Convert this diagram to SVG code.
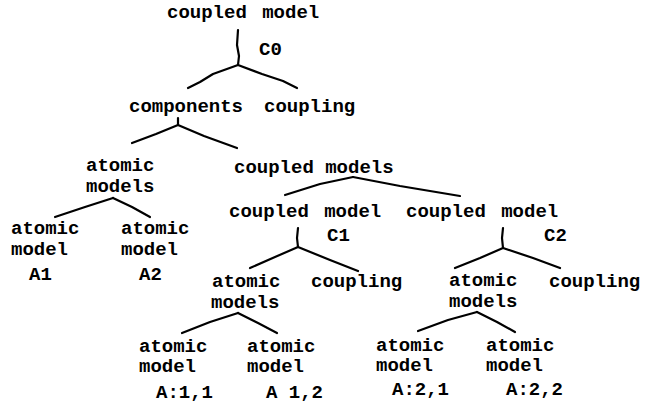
<svg xmlns="http://www.w3.org/2000/svg" width="655" height="403" viewBox="0 0 655 403">
<style>
text{font-family:"Liberation Mono","DejaVu Sans Mono",monospace;font-weight:bold;font-size:19px;fill:#000}
.w{word-spacing:4px}
.e{fill:none;stroke:#000;stroke-width:2.2;stroke-linejoin:round;stroke-linecap:round}
</style>
<rect width="655" height="403" fill="#fff"/>
<g id="edges">
<polyline class="e" points="238,30 237,45 239,56 238,65"/>
<polyline class="e" points="238,65 213,74 200,82 188,88"/>
<polyline class="e" points="238,65 262,74 283,81 297,88"/>
<polyline class="e" points="178,118 178,125"/>
<polyline class="e" points="178,125 156,134 132,143"/>
<polyline class="e" points="178,125 204,136 237,148"/>
<polyline class="e" points="113,198 85,207 55,217"/>
<polyline class="e" points="113,198 132,207 150,217"/>
<polyline class="e" points="353,177 320,184 285,195"/>
<polyline class="e" points="353,177 400,186 460,196"/>
<polyline class="e" points="298,228 297,238 298,247"/>
<polyline class="e" points="298,247 275,257 250,268"/>
<polyline class="e" points="298,247 330,260 358,271"/>
<polyline class="e" points="503,228 502,238 503,248"/>
<polyline class="e" points="503,248 480,258 455,268"/>
<polyline class="e" points="503,248 533,258 560,268"/>
<polyline class="e" points="238,313 210,322 182,333"/>
<polyline class="e" points="238,313 258,323 277,333"/>
<polyline class="e" points="477,312 448,320 418,331"/>
<polyline class="e" points="477,312 497,322 515,332"/>
</g>
<g id="c0"><text class="w" x="167" y="18">coupled model</text><text x="259" y="55">C0</text></g>
<g id="components"><text x="129" y="112">components</text></g>
<g id="coupling0"><text x="264" y="112">coupling</text></g>
<g id="atomic-models-0"><text x="86" y="171">atomic</text><text x="86" y="192">models</text></g>
<g id="a1"><text x="11" y="234">atomic</text><text x="11" y="255">model</text><text x="29" y="280">A1</text></g>
<g id="a2"><text x="121" y="234">atomic</text><text x="121" y="255">model</text><text x="139" y="280">A2</text></g>
<g id="coupled-models"><text x="234" y="173">coupled models</text></g>
<g id="c1"><text class="w" x="229" y="217">coupled model</text><text x="327" y="241">C1</text></g>
<g id="c2"><text class="w" x="406" y="217">coupled model</text><text x="544" y="241">C2</text></g>
<g id="atomic-models-1"><text x="212" y="287">atomic</text><text x="211" y="308">models</text></g>
<g id="coupling1"><text x="311" y="287">coupling</text></g>
<g id="atomic-models-2"><text x="449" y="286">atomic</text><text x="449" y="307">models</text></g>
<g id="coupling2"><text x="549" y="287">coupling</text></g>
<g id="a11"><text x="139" y="352">atomic</text><text x="139" y="372">model</text><text x="156" y="398">A:1,1</text></g>
<g id="a12"><text x="247" y="352">atomic</text><text x="247" y="372">model</text><text x="266" y="398">A 1,2</text></g>
<g id="a21"><text x="376" y="351">atomic</text><text x="376" y="371">model</text><text x="392" y="395">A:2,1</text></g>
<g id="a22"><text x="486" y="351">atomic</text><text x="486" y="371">model</text><text x="506" y="395">A:2,2</text></g>
</svg>
